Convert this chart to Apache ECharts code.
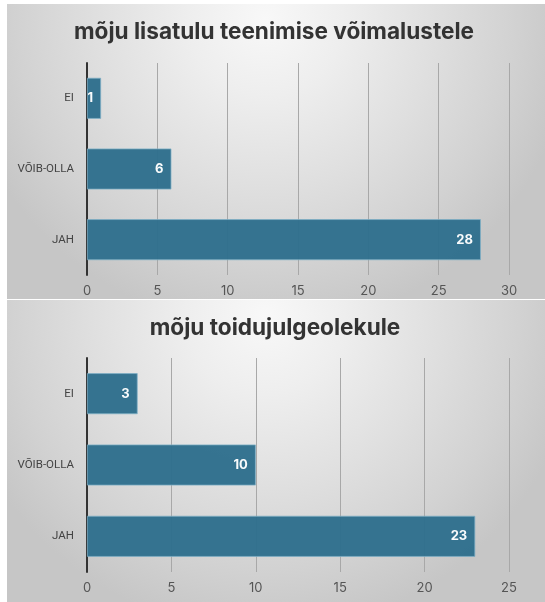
<!DOCTYPE html>
<html><head><meta charset="utf-8">
<script src="https://cdn.jsdelivr.net/npm/echarts@6/dist/echarts.min.js"></script>
<style>html,body{margin:0;padding:0;background:#fff}#c{width:545px;height:602px}</style>
</head><body><div id="c"></div>
<script>
const categories = ['EI', 'VÕIB-OLLA', 'JAH'];
const title1 = 'mõju lisatulu teenimise võimalustele';
const values1 = [1, 6, 28];
const title2 = 'mõju toidujulgeolekule';
const values2 = [3, 10, 23];
const axisMax1 = 30;
const axisMax2 = 25;

const chart = echarts.init(document.getElementById('c'), null, {renderer: 'canvas'});
function bg(y, h) {
  return {
    type: 'rect', left: 7, top: y, z: -10,
    shape: {width: 538, height: h},
    style: {fill: new echarts.graphic.RadialGradient(0.48, 0.05, 1.05, [
      {offset: 0, color: '#f8f8f8'},
      {offset: 0.25, color: '#eeeeee'},
      {offset: 0.55, color: '#dfdfdf'},
      {offset: 0.8, color: '#d2d2d2'},
      {offset: 1, color: '#c6c6c6'}
    ])}
  };
}
const fontFam = 'Inter, "Open Sans", sans-serif';
function xAx(idx, max) {
  return {
    type: 'value', gridIndex: idx, min: 0, max: max, interval: 5,
    axisLine: {show: false}, axisTick: {show: false},
    axisLabel: {color: '#555', fontSize: 13, margin: 10, fontFamily: fontFam},
    splitLine: {show: true, lineStyle: {color: '#a8a8a8', width: 1}}
  };
}
function yAx(idx) {
  return {
    type: 'category', gridIndex: idx, data: categories, inverse: true,
    axisLine: {show: true, lineStyle: {color: '#333', width: 2}},
    axisTick: {show: false},
    axisLabel: {color: '#444', fontSize: 11.5, margin: 13, fontFamily: 'Roboto, "Liberation Sans", sans-serif'}
  };
}
function ser(idx, vals) {
  return {
    type: 'bar', xAxisIndex: idx, yAxisIndex: idx, data: vals, barWidth: 41,
    itemStyle: {color: '#2f6f8d', borderColor: '#7fb0c6', borderWidth: 0.8, opacity: 0.97},
    label: {show: true, position: 'insideRight', distance: 8, color: '#fff', fontWeight: 'bold', fontSize: 13, fontFamily: fontFam}
  };
}
chart.setOption({
  animation: false,
  graphic: [bg(4, 295), bg(300, 302)],
  title: [
    {text: title1, left: 269, textAlign: 'center', top: 16, textStyle: {fontSize: 22.6, fontWeight: 'bold', color: '#333', fontFamily: fontFam}},
    {text: title2, left: 270, textAlign: 'center', top: 312, textStyle: {fontSize: 22.6, fontWeight: 'bold', color: '#333', fontFamily: fontFam}}
  ],
  grid: [
    {left: 87, right: 36, top: 63, height: 212},
    {left: 87, right: 36, top: 358, height: 214}
  ],
  xAxis: [xAx(0, axisMax1), xAx(1, axisMax2)],
  yAxis: [yAx(0), yAx(1)],
  series: [ser(0, values1), ser(1, values2)]
});
</script></body></html>
